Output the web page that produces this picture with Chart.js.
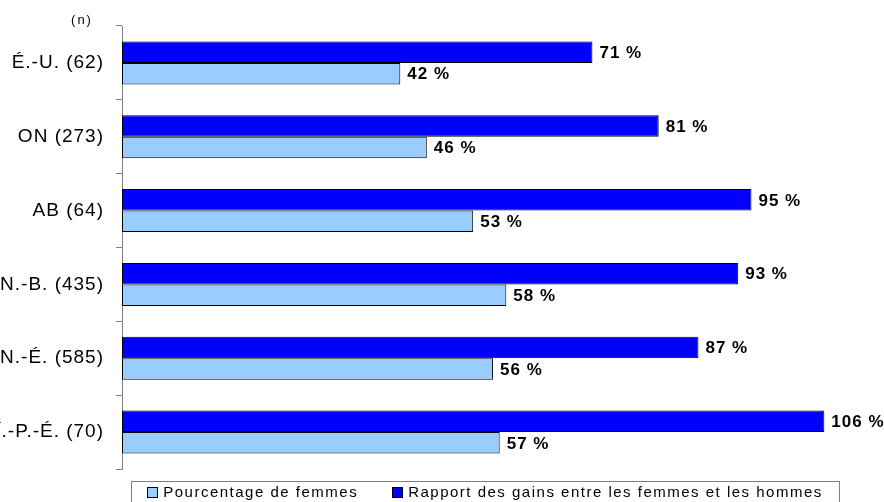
<!DOCTYPE html>
<html>
<head>
<meta charset="utf-8">
<script src="https://cdn.jsdelivr.net/npm/chart.js@4/dist/chart.umd.min.js"></script>
<style>
  html, body { margin: 0; background: #fff; }
  #wrap { width: 884px; height: 502px; position: relative; }
</style>
</head>
<body>
<div id="wrap"><canvas id="myChart"></canvas></div>
<script>
const categories = ['É.-U. (62)', 'ON (273)', 'AB (64)', 'N.-B. (435)', 'N.-É. (585)', 'Î.-P.-É. (70)'];
const pctFemmes = [42, 46, 53, 58, 56, 57];
const rapportGains = [71, 81, 95, 93, 87, 106];
const seriesNames = ['Rapport des gains entre les femmes et les hommes', 'Pourcentage de femmes'];

const FONT = '"Liberation Sans", Arial, sans-serif';

// spacing like the old office chart text
const spacingPlugin = {
    id: 'spacing',
    beforeDraw(chart) { chart.ctx.letterSpacing = '1px'; },
    beforeDatasetsDraw(chart) { chart.ctx.letterSpacing = '0px'; }
};

const valueLabels = {
    id: 'valueLabels',
    afterDatasetsDraw(chart) {
        const ctx = chart.ctx;
        ctx.save();
        ctx.letterSpacing = '1px';
        ctx.font = 'bold 17px ' + FONT;
        ctx.fillStyle = '#000';
        ctx.textAlign = 'left';
        ctx.textBaseline = 'middle';
        chart.data.datasets.forEach((ds, i) => {
            chart.getDatasetMeta(i).data.forEach((bar, j) => {
                ctx.fillText(ds.data[j] + ' %', bar.x + 7, bar.y + 1);
            });
        });
        ctx.restore();
    }
};

const boxLegend = {
    id: 'boxLegend',
    afterDraw(chart) {
        const ctx = chart.ctx;
        const area = chart.chartArea;
        ctx.save();
        // (n) above the category labels
        ctx.letterSpacing = '2px';
        ctx.font = '13px ' + FONT;
        ctx.fillStyle = '#000';
        ctx.textAlign = 'center';
        ctx.textBaseline = 'middle';
        ctx.fillText('(n)', area.left - 40, area.top - 6);

        // legend with frame, light series first
        ctx.letterSpacing = '1.5px';
        ctx.font = '15px ' + FONT;
        ctx.textAlign = 'left';
        const items = chart.data.datasets.slice().reverse();
        const box = 10, gapBox = 6, gapItem = 34, pad = 16;
        const widths = items.map(ds => ctx.measureText(ds.label).width);
        const total = widths.reduce((a, w) => a + box + gapBox + w, 0) + gapItem * (items.length - 1);
        const cx = 485;
        const top = area.bottom + 12;
        const cy = top + 11;
        let x = cx - total / 2;
        ctx.strokeStyle = '#808080';
        ctx.lineWidth = 1;
        ctx.strokeRect(Math.round(x - pad) + 0.5, top + 0.5, Math.round(total + pad * 2), 40);
        items.forEach((ds, i) => {
            ctx.fillStyle = ds.backgroundColor;
            ctx.fillRect(Math.round(x), cy - 5, box, box);
            ctx.strokeStyle = '#000';
            ctx.strokeRect(Math.round(x) + 0.5, cy - 5 + 0.5, box, box);
            ctx.fillStyle = '#000';
            ctx.fillText(ds.label, x + box + gapBox, cy + 1);
            x += box + gapBox + widths[i] + gapItem;
        });
        ctx.restore();
    }
};

document.addEventListener("DOMContentLoaded", function () {
    const ctx = document.getElementById('myChart');
    new Chart(ctx, {
        type: 'bar',
        data: {
            labels: categories,
            datasets: [{
                label: seriesNames[0],
                data: rapportGains,
                backgroundColor: '#0000FF',
                borderColor: '#000',
                borderWidth: 1,
                borderSkipped: false
            }, {
                label: seriesNames[1],
                data: pctFemmes,
                backgroundColor: '#99CCFF',
                borderColor: '#000',
                borderWidth: 1,
                borderSkipped: false
            }]
        },
        options: {
            indexAxis: 'y',
            responsive: true,
            maintainAspectRatio: false,
            animation: false,
            datasets: {
                bar: { categoryPercentage: 0.583, barPercentage: 1.0 }
            },
            layout: { padding: { top: 26, bottom: 33, left: 0, right: 0 } },
            plugins: {
                legend: { display: false },
                tooltip: { enabled: false }
            },
            scales: {
                x: { display: false, min: 0, max: 115 },
                y: {
                    grid: {
                        display: true,
                        drawOnChartArea: false,
                        offset: true,
                        tickLength: 6,
                        color: '#808080'
                    },
                    border: { color: '#808080', width: 1 },
                    ticks: {
                        color: '#000',
                        padding: 12,
                        font: { family: FONT, size: 19 }
                    },
                    afterFit(scale) { scale.width = 122; }
                }
            }
        },
        plugins: [spacingPlugin, valueLabels, boxLegend]
    });
});
</script>
</body>
</html>
